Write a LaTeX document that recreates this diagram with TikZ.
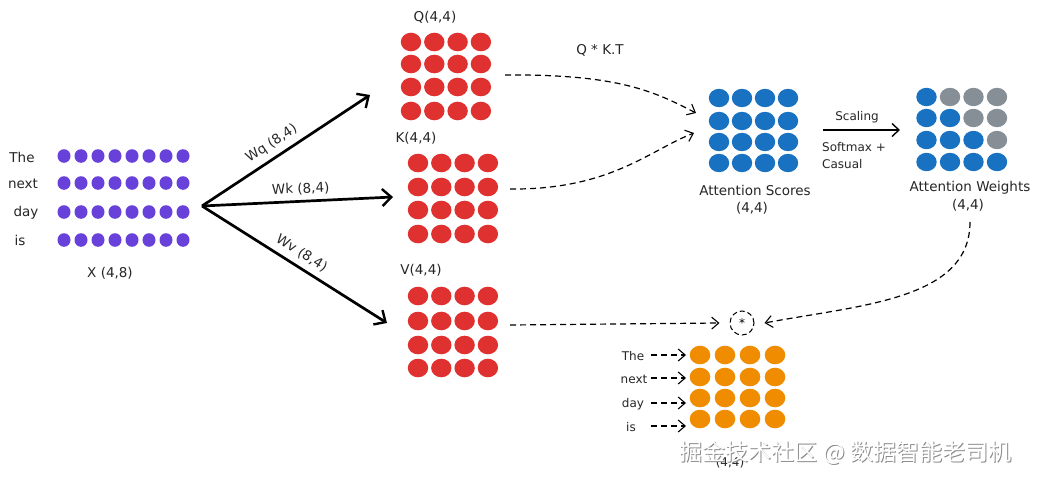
\documentclass[tikz,border=0pt]{standalone}
\usepackage{fontspec}
\setmainfont{DejaVu Sans}
\newfontfamily\cjk{Noto Sans CJK SC}
\usetikzlibrary{arrows.meta}
\definecolor{xpurple}{HTML}{6741D9}
\definecolor{xred}{HTML}{E03131}
\definecolor{xblue}{HTML}{1971C2}
\definecolor{xorange}{HTML}{F08C00}
\definecolor{xgray}{HTML}{868E96}
\begin{document}
\begin{tikzpicture}[x=1pt,y=-1pt,
  lbl/.style={font=\fontsize{13.5}{15}\selectfont, inner sep=1pt, text=black!85},
  smlbl/.style={font=\fontsize{12}{14}\selectfont, inner sep=1pt, text=black!85},
  bigarrow/.style={line width=2.7pt, -{Straight Barb[length=9pt,width=17pt,line width=2.4pt]}},
  dasharrow/.style={line width=1.2pt, dash pattern=on 6pt off 4pt, -{Straight Barb[length=7pt,width=12pt,line width=1.1pt]}},
  solidarrow/.style={line width=1.5pt, -{Straight Barb[length=7pt,width=13pt,line width=1.4pt]}},
]
\useasboundingbox (0,0) rectangle (1041,482);

% ---------- X matrix (4x8)
\foreach \yy in {156,183,212,240}
  \foreach \c in {0,...,7}
    \fill[xpurple] ({64+\c*17},\yy) ellipse[x radius=6.5, y radius=6.8];
\node[lbl] (w1) at (22,157) {The};
\node[lbl] (w2) at (23,184) {next};
\node[lbl] (w3) at (26,213) {day};
\node[lbl] (w4) at (20,240) {is};
\node[lbl] (xl) at (110,273) {X (4,8)};
\coordinate (xo) at (202,206);

% ---------- Q, K, V
\foreach \yy in {42,64,87,111}
  \foreach \c in {0,...,3}
    \fill[xred] ({411+\c*23.3},\yy) ellipse[x radius=10.2, y radius=9.3];
\node[lbl] (ql) at (435,17) {Q(4,4)};
\foreach \yy in {163,187,210,234}
  \foreach \c in {0,...,3}
    \fill[xred] ({418+\c*23.3},\yy) ellipse[x radius=10.2, y radius=9.3];
\node[lbl] (kl) at (416,138) {K(4,4)};
\foreach \yy in {296,321,345,368}
  \foreach \c in {0,...,3}
    \fill[xred] ({418+\c*23.3},\yy) ellipse[x radius=10.2, y radius=9.3];
\node[lbl] (vl) at (421,270) {V(4,4)};

\coordinate (qin) at (370,95);
\coordinate (kin) at (393,197);
\coordinate (vin) at (387,323);
\coordinate (qout) at (505,75);
\coordinate (kout) at (510,189);
\coordinate (vout) at (510,325);

\draw[bigarrow] (xo) -- (qin) node[pos=0.46, lbl, above=5pt, sloped] (wq) {Wq (8,4)};
\draw[bigarrow] (xo) -- (kin) node[pos=0.52, lbl, above=4pt, sloped] (wk) {Wk (8,4)};
\draw[bigarrow] (xo) -- (vin) node[pos=0.5, lbl, above=5pt, sloped] (wv) {Wv (8,4)};

% ---------- Attention scores
\foreach \yy in {98,121,142,163}
  \foreach \c in {0,...,3}
    \fill[xblue] ({719+\c*23},\yy) ellipse[x radius=10.2, y radius=9.2];
\node[lbl] (asl) at (755,190) {Attention Scores};
\node[lbl] (asd) at (752,208) {(4,4)};
\coordinate (asq) at (696,113);
\coordinate (ask) at (694,133);

\node[lbl] (qkt) at (600,50) {Q * K.T};
\draw[dasharrow] (qout) .. controls (620,74) and (655,92) .. (asq);
\draw[dasharrow] (kout) .. controls (610,190) and (650,150) .. (ask);

% ---------- Attention weights
\foreach \yy [count=\r] in {97,118,140,162}
  \foreach \c in {1,...,4}{
    \pgfmathsetmacro\isgray{\c>\r ? 1 : 0}
    \ifdim\isgray pt>0.5pt \def\dc{xgray}\else\def\dc{xblue}\fi
    \fill[\dc] ({903+\c*23.5},\yy) ellipse[x radius=10.2, y radius=9.2];
  }
\node[lbl] (awl) at (970,188) {Attention Weights};
\node[lbl] (awd) at (968,205) {(4,4)};

\coordinate (sa) at (823,130);
\coordinate (sb) at (900,130);
\draw[solidarrow] (sa) -- (sb);
\node[smlbl] (scl) at (857,117) {Scaling};
\node[smlbl, anchor=west] (sm) at (821,147) {Softmax +};
\node[smlbl, anchor=west] (cs) at (821,164) {Casual};

% ---------- star and output
\node[circle, draw, line width=1pt, dash pattern=on 5pt off 3pt, minimum size=24pt, inner sep=0pt, font=\fontsize{12}{12}\selectfont] (star) at (742,323) {*};
\coordinate (awout) at (970,222);
\draw[dasharrow] (vout) -- ([xshift=-10pt]star.west);
\draw[dasharrow] (awout) .. controls (970,300) and (860,305) .. ([xshift=10pt]star.east);

\foreach \yy in {355,377,398,419}
  \foreach \c in {0,...,3}
    \fill[xorange] ({700+\c*25},\yy) ellipse[x radius=10.3, y radius=9.3];
\foreach \w/\yy/\xx/\nm in {The/356/633/o1, next/379/634/o2, day/404/633/o3, is/427/631/o4}{
  \node[smlbl] (\nm) at (\xx,\yy) {\w};
  \draw[dasharrow] (651,{\yy-1}) -- (686,{\yy-1});
}
\node[smlbl] (od) at (730,463) {(4,4)};

% ---------- watermark
\node[font=\cjk\fontsize{23}{26}\selectfont, text=black!45, inner sep=0pt] (wm0) at (846.5,453.5) {掘金技术社区 @ 数据智能老司机};
\node[font=\cjk\fontsize{23}{26}\selectfont, text=white, inner sep=0pt] (wm) at (845.5,452.5) {掘金技术社区 @ 数据智能老司机};
\end{tikzpicture}
\end{document}
